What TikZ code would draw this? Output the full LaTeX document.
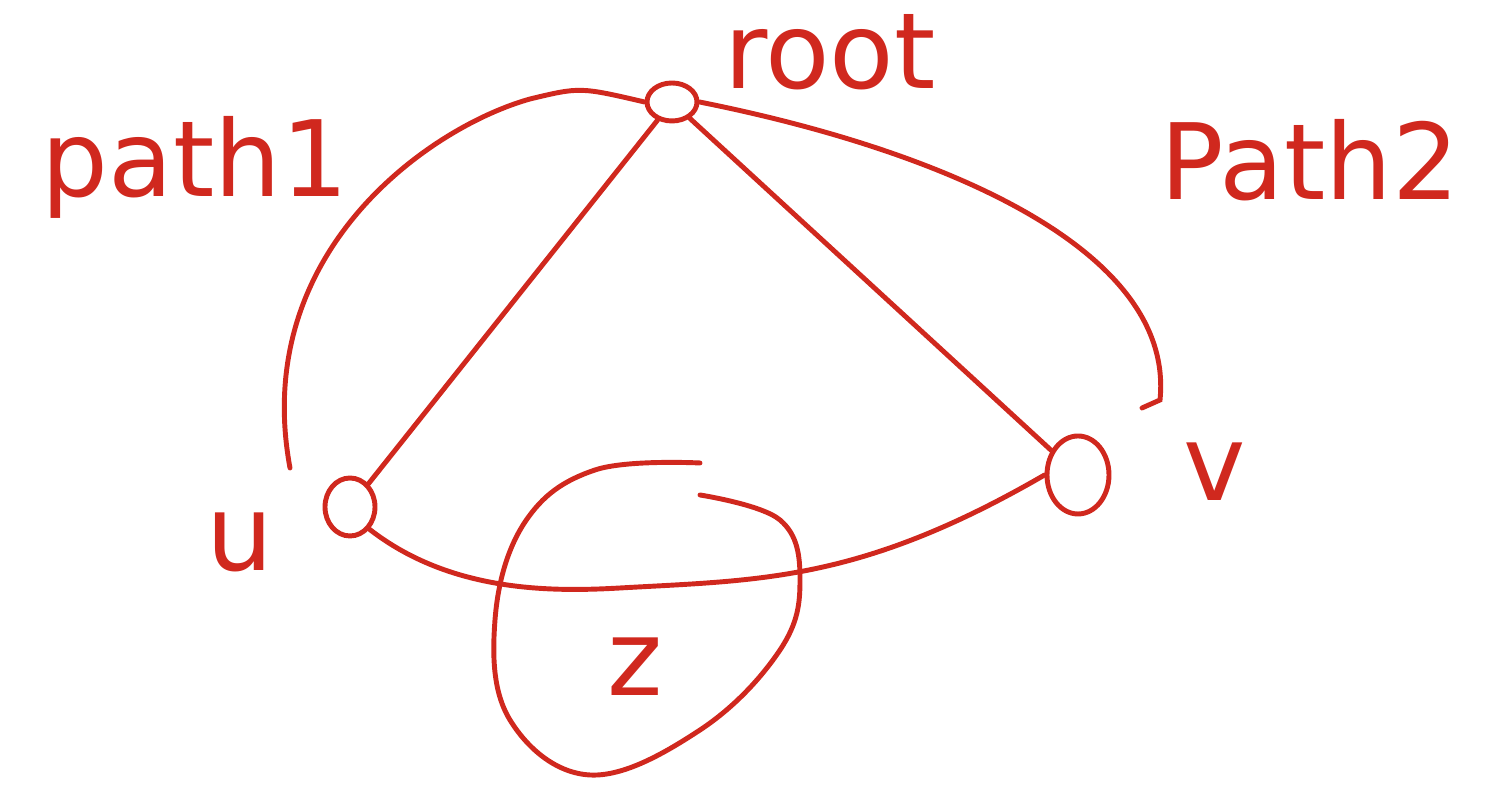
\documentclass[tikz,border=0pt]{standalone}
\usepackage{fontspec}
\setmainfont{DejaVu Sans}
\usetikzlibrary{shapes.geometric,positioning}

\definecolor{pen}{RGB}{208,40,30}

\tikzset{
  vert/.style={ellipse, draw=pen, line width=1.4pt, inner sep=0pt},
  lbl/.style={text=pen, font=\fontsize{30}{36}\selectfont, inner sep=0pt},
  stroke/.style={draw=pen, line width=1.4pt, line cap=round}
}

\begin{document}
\begin{tikzpicture}
\useasboundingbox (0,0) rectangle (15.12,8.12);

% vertices
\node[vert, minimum width=0.5cm, minimum height=0.38cm] (root) at (6.72,7.10) {};
\node[vert, minimum width=0.5cm, minimum height=0.58cm] (u) at (3.50,3.05) {};
\node[vert, minimum width=0.62cm, minimum height=0.78cm] (v) at (10.78,3.37) {};

% labels
\node[lbl] (rootlbl) at (8.30,7.60) {root};
\node[lbl] (ulbl) at (2.40,2.70) {u};
\node[lbl] (vlbl) at (12.15,3.40) {v};
\node[lbl] (zlbl) at (6.35,1.45) {z};
\node[lbl] (pathonelbl) at (1.95,6.45) {path1};
\node[lbl] (pathtwolbl) at (13.10,6.52) {Path2};

% tree edges
\draw[stroke] (root) -- (u);
\draw[stroke] (root) -- (v);

% path1
\coordinate (pstart) at (2.90,3.44);
\coordinate (ptop) at (5.30,7.13);
\draw[stroke] (pstart) .. controls (2.50,5.60) and (4.30,6.85) .. (ptop)
  .. controls (5.80,7.25) .. (root.west);

% path2
\coordinate (pend) at (11.60,4.12);
\draw[stroke] (root.east) .. controls (9.50,6.60) and (11.75,5.60) .. (pend) -- ++(-0.18,-0.08);

% u - v edge
\coordinate (umid) at (6.20,2.24);
\draw[stroke] (u.south east) .. controls (4.50,2.20) and (5.50,2.20) .. (umid)
  .. controls (7.60,2.32) and (8.60,2.30) .. (v.west);

% loop round z
\draw[stroke] plot[smooth, tension=0.65] coordinates {(7.00,3.49) (5.95,3.42) (5.25,2.90) (4.95,1.92)
  (5.10,0.92) (5.90,0.37) (7.00,0.82) (7.80,1.62) (8.00,2.32) (7.80,2.92) (7.00,3.17)};

\end{tikzpicture}
\end{document}
